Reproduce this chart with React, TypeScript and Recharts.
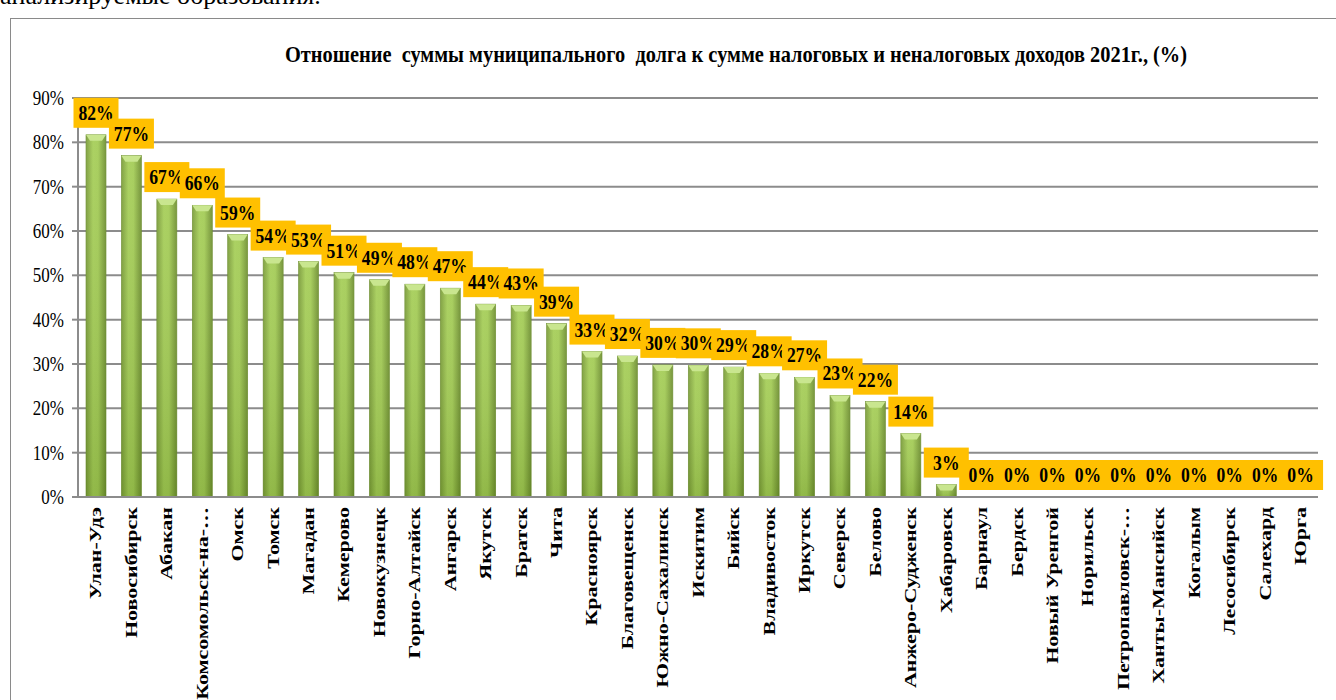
import React from "react";
import { BarChart, Bar, XAxis, YAxis, CartesianGrid, LabelList } from "recharts";

const cities = [
  "Улан-Удэ", "Новосибирск", "Абакан", "Комсомольск-на-…", "Омск", "Томск", "Магадан", "Кемерово",
  "Новокузнецк", "Горно-Алтайск", "Ангарск", "Якутск", "Братск", "Чита", "Красноярск", "Благовещенск",
  "Южно-Сахалинск", "Искитим", "Бийск", "Владивосток", "Иркутск", "Северск", "Белово", "Анжеро-Судженск",
  "Хабаровск", "Барнаул", "Бердск", "Новый Уренгой", "Норильск", "Петропавловск-…", "Ханты-Мансийск",
  "Когалым", "Лесосибирск", "Салехард", "Юрга",
];
const debtRatio = [
  81.7, 77.0, 67.2, 65.8, 59.2, 54.0, 53.1, 50.6, 49.0, 48.0, 47.1, 43.5, 43.2, 39.1, 32.8, 31.8,
  29.8, 29.7, 29.3, 27.9, 27.0, 22.9, 21.5, 14.3, 2.8, 0, 0, 0, 0, 0, 0, 0, 0, 0, 0,
];
const yTicks = [0, 10, 20, 30, 40, 50, 60, 70, 80, 90];
const title = "Отношение  суммы муниципального  долга к сумме налоговых и неналоговых доходов 2021г., (%)";

const data = cities.map((c, i) => ({ city: c, value: debtRatio[i] }));
const SERIF = "'Liberation Serif', 'Times New Roman', serif";

const BarShape = (props: any) => {
  const { x, y, width, height } = props;
  if (!height || height <= 0) return null;
  const b = Math.min(6, height);
  return (
    <g>
      <rect x={x} y={y} width={width} height={height} fill="url(#barGrad)" stroke="#6a8c2c" strokeWidth={0.6} />
      <rect x={x} y={y} width={width} height={height} fill="url(#barShade)" />
      <polygon
        points={`${x},${y} ${x + width},${y} ${x + width - 4},${y + b} ${x + 4},${y + b}`}
        fill="#c9e68f"
      />
    </g>
  );
};

const ValueLabel = (props: any) => {
  const { x, y, width, value } = props;
  const cx = x + width / 2;
  const bw = 45;
  const bh = 30;
  const top = y - 37;
  return (
    <g>
      <rect x={cx - bw / 2} y={top} width={bw} height={bh} fill="#FFC000" />
      <text
        transform={`translate(${cx},${top + 22}) scale(0.88,1)`}
        textAnchor="middle"
        fontFamily={SERIF}
        fontWeight="bold"
        fontSize={20}
        fill="#000"
      >
        {`${Math.round(value)}%`}
      </text>
    </g>
  );
};

const XTick = (props: any) => {
  const { x, y, payload } = props;
  return (
    <g transform={`translate(${x},${y + 2}) scale(0.75,1)`}>
      <text
        transform="rotate(-90)"
        textAnchor="end"
        dy="0.35em"
        fontFamily={SERIF}
        fontWeight="bold"
        fontSize={22}
        fill="#000"
      >
        {payload.value}
      </text>
    </g>
  );
};

const YTick = (props: any) => {
  const { x, y, payload } = props;
  return (
    <text
      transform={`translate(${x},${y + 7}) scale(0.85,1)`}
      textAnchor="end"
      fontFamily={SERIF}
      fontSize={20}
      fill="#000"
    >
      {`${payload.value}%`}
    </text>
  );
};

export default function App() {
  return (
    <div style={{ position: "absolute", left: 0, top: 0, width: 1336, height: 700, overflow: "hidden", background: "#fff" }}>
      <div
        style={{
          position: "absolute",
          left: 0,
          top: -19,
          fontFamily: SERIF,
          fontSize: 26,
          whiteSpace: "nowrap",
          color: "#000",
        }}
      >
        анализируемые образования.
      </div>
      <div
        style={{
          position: "absolute",
          left: 10,
          top: 18,
          width: 1340,
          height: 700,
          border: "1.5px solid #8a8a8a",
          boxSizing: "border-box",
        }}
      />
      <svg style={{ position: "absolute", left: 0, top: 0 }} width={1336} height={80}>
        <text
          x={285}
          y={62}
          textLength={902}
          lengthAdjust="spacingAndGlyphs"
          fontFamily={SERIF}
          fontWeight="bold"
          fontSize={24}
          fill="#000"
          style={{ whiteSpace: "pre" }}
        >
          {title}
        </text>
      </svg>
      <div style={{ position: "absolute", left: 0, top: 0 }}>
        <BarChart
          width={1336}
          height={700}
          data={data}
          margin={{ top: 98, right: 18, bottom: 3, left: 18 }}
          barCategoryGap={0}
        >
          <defs>
            <linearGradient id="barGrad" x1="0" y1="0" x2="1" y2="0">
              <stop offset="0%" stopColor="#789a36" />
              <stop offset="35%" stopColor="#a4cd55" />
              <stop offset="60%" stopColor="#a2cb53" />
              <stop offset="100%" stopColor="#6c8d2d" />
            </linearGradient>
            <linearGradient id="barShade" x1="0" y1="0" x2="0" y2="1">
              <stop offset="0%" stopColor="#ffffff" stopOpacity={0.08} />
              <stop offset="100%" stopColor="#3c5a10" stopOpacity={0.18} />
            </linearGradient>
          </defs>
          <CartesianGrid vertical={false} stroke="#8c8c8c" strokeWidth={2} />
          <XAxis
            dataKey="city"
            interval={0}
            height={200}
            tick={<XTick />}
            tickLine={false}
            axisLine={{ stroke: "#8c8c8c", strokeWidth: 2 }}
          />
          <YAxis
            width={60}
            domain={[0, 90]}
            ticks={yTicks}
            tick={<YTick />}
            tickSize={6}
            tickMargin={8}
            tickLine={{ stroke: "#8c8c8c", strokeWidth: 2 }}
            axisLine={{ stroke: "#8c8c8c", strokeWidth: 2 }}
          />
          <Bar dataKey="value" barSize={20} shape={<BarShape />} isAnimationActive={false}>
            <LabelList dataKey="value" content={<ValueLabel />} />
          </Bar>
        </BarChart>
      </div>
    </div>
  );
}
